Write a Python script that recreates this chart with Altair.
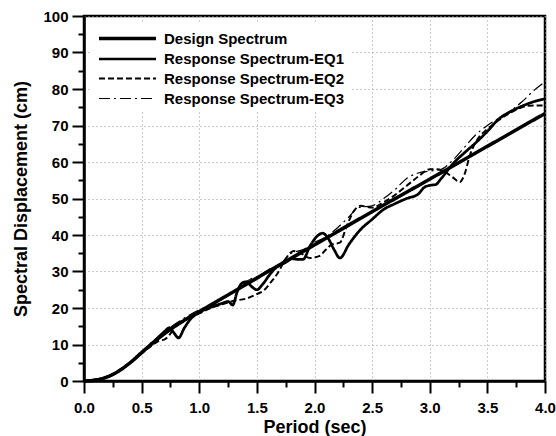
import altair as alt
import pandas as pd

# ---- data ----
series_names = ["Design Spectrum", "Response Spectrum-EQ1",
                "Response Spectrum-EQ2", "Response Spectrum-EQ3"]

design_T = [0.0, 0.1, 0.2, 0.3, 0.4, 0.5, 0.6, 0.7, 0.8, 0.9, 1.0,
            1.5, 2.0, 2.5, 3.0, 3.5, 4.0]
design_Sd = [0.0, 0.25, 1.1, 2.7, 5.0, 7.8, 10.5, 13.0, 15.2, 17.2, 19.0,
             28.2, 37.3, 46.4, 55.3, 64.3, 73.3]

eq1_T = [0.0, 0.2, 0.4, 0.6, 0.7, 0.74, 0.78, 0.82, 0.87, 0.92, 1.0, 1.1,
         1.2, 1.25, 1.29, 1.33, 1.37, 1.41, 1.45, 1.5, 1.55, 1.62, 1.68,
         1.75, 1.8, 1.86, 1.9, 1.96, 2.02, 2.07, 2.12, 2.17, 2.22, 2.3,
         2.4, 2.5, 2.6, 2.7, 2.8, 2.9, 2.95, 3.0, 3.05, 3.1, 3.2, 3.3,
         3.4, 3.5, 3.6, 3.7, 3.8, 3.9, 4.0]
eq1_Sd = [0.0, 1.1, 5.0, 10.6, 13.6, 14.6, 13.2, 11.8, 14.5, 16.8, 18.8,
          20.2, 21.3, 21.8, 20.8, 24.5, 26.8, 27.2, 26.0, 25.0, 26.5, 29.5,
          31.4, 32.5, 33.5, 33.3, 33.3, 36.9, 39.6, 40.5, 39.0, 36.0, 33.7,
          37.5, 41.5, 44.3, 47.0, 48.6, 50.0, 51.2, 53.0, 53.6, 53.8, 55.5,
          59.5, 62.5, 65.3, 68.4, 71.8, 73.8, 75.3, 76.5, 77.3]

eq2_T = [0.0, 0.2, 0.4, 0.6, 0.65, 0.7, 0.75, 0.8, 0.9, 1.0, 1.1, 1.2,
         1.3, 1.4, 1.5, 1.56, 1.62, 1.68, 1.75, 1.82, 1.88, 1.96, 2.04,
         2.1, 2.15, 2.22, 2.28, 2.34, 2.4, 2.5, 2.6, 2.7, 2.8, 2.9, 3.0,
         3.06, 3.12, 3.2, 3.26, 3.3, 3.35, 3.42, 3.5, 3.6, 3.7, 3.8, 3.9,
         4.0]
eq2_Sd = [0.0, 1.1, 5.0, 10.0, 11.0, 11.4, 13.0, 15.5, 17.0, 18.5, 20.0,
          21.0, 22.0, 22.5, 23.8, 24.8, 27.0, 29.5, 33.5, 35.6, 35.0, 33.7,
          34.2, 36.0, 37.4, 37.9, 42.5, 46.5, 48.0, 47.5, 49.0, 51.0, 53.5,
          56.0, 58.0, 58.0, 57.5, 55.8, 54.5, 56.5, 62.0, 66.5, 69.0, 71.5,
          73.5, 75.0, 75.5, 75.5]

eq3_T = [0.0, 0.2, 0.4, 0.6, 0.66, 0.7, 0.8, 0.9, 1.0, 1.1, 1.2, 1.3,
         1.4, 1.45, 1.5, 1.6, 1.7, 1.8, 1.9, 2.0, 2.1, 2.2, 2.3, 2.38,
         2.5, 2.6, 2.7, 2.8, 2.9, 3.0, 3.1, 3.2, 3.3, 3.4, 3.5, 3.6, 3.7,
         3.8, 3.9, 4.0]
eq3_Sd = [0.0, 1.1, 5.0, 11.0, 12.5, 13.5, 15.8, 17.8, 19.5, 20.8, 22.3,
          24.5, 27.0, 28.0, 28.5, 30.5, 32.0, 35.0, 36.0, 38.0, 39.5, 42.0,
          45.0, 47.5, 48.0, 50.0, 52.5, 55.5, 57.0, 57.5, 58.0, 60.5, 64.0,
          67.5, 70.0, 72.0, 74.0, 76.5, 79.5, 82.0]

x_ticks = [i * 0.25 for i in range(17)]
y_ticks = [i * 5 for i in range(21)]

rows = []
for name, ts, sds in zip(series_names,
                         [design_T, eq1_T, eq2_T, eq3_T],
                         [design_Sd, eq1_Sd, eq2_Sd, eq3_Sd]):
    for t, s in zip(ts, sds):
        rows.append({"series": name, "T": t, "Sd": s})
df = pd.DataFrame(rows)

FONT = "Liberation Sans"

# legend symbol: a long horizontal stroke drawn to the right of the entry
legend = alt.Legend(
    title=None, orient="none", legendX=8, legendY=6,
    symbolType="M-1,0H5", symbolSize=361, symbolStrokeColor="black",
    symbolFillColor="transparent",
    labelFont=FONT, labelFontSize=15, labelFontWeight="bold",
    labelColor="black", labelOffset=44, rowPadding=1, labelLimit=400,
    fillColor="white", padding=5,
)

x_axis = alt.Axis(
    values=x_ticks,
    labelExpr="datum.value % 0.5 == 0 ? format(datum.value, '.1f') : ''",
    tickSize={"condition": {"test": "datum.value % 0.5 == 0", "value": 12}, "value": 6},
    gridOpacity={"condition": {"test": "datum.value % 0.5 == 0", "value": 1}, "value": 0},
    title="Period (sec)", labelPadding=7, titlePadding=3,
)
y_axis = alt.Axis(
    values=y_ticks,
    labelExpr="datum.value % 10 == 0 ? datum.value : ''",
    tickSize={"condition": {"test": "datum.value % 10 == 0", "value": 12}, "value": 6},
    gridOpacity={"condition": {"test": "datum.value % 10 == 0", "value": 1}, "value": 0},
    title="Spectral Displacement (cm)", labelPadding=4, titlePadding=12,
)

chart = alt.Chart(df).mark_line(color="black", interpolate="monotone").encode(
    x=alt.X("T:Q", scale=alt.Scale(domain=[0, 4], nice=False), axis=x_axis),
    y=alt.Y("Sd:Q", scale=alt.Scale(domain=[0, 100], nice=False), axis=y_axis),
    strokeDash=alt.StrokeDash(
        "series:N",
        scale=alt.Scale(domain=series_names,
                        range=[[1, 0], [1, 0], [6, 3], [11, 4, 2, 4]]),
        legend=legend),
    strokeWidth=alt.StrokeWidth(
        "series:N",
        scale=alt.Scale(domain=series_names, range=[3.5, 1.2, 1.4, 1.4]),
        legend=legend),
).properties(
    width=461, height=365,
    autosize=alt.AutoSizeParams(type="none"),
    padding={"left": 84, "top": 16, "right": 11, "bottom": 55},
).configure_view(
    stroke="black", strokeWidth=2.5,
).configure_axis(
    domainColor="black", domainWidth=2.5,
    tickColor="black", tickWidth=2,
    labelFont=FONT, labelFontSize=15, labelFontWeight="bold", labelColor="black",
    titleFont=FONT, titleFontSize=18, titleFontWeight="bold", titleColor="black",
    gridColor="#999999", gridDash=[1, 3], gridWidth=1,
    labelFlush=False,
)

chart.save("out.html", embed_options={"renderer": "svg", "actions": False})
